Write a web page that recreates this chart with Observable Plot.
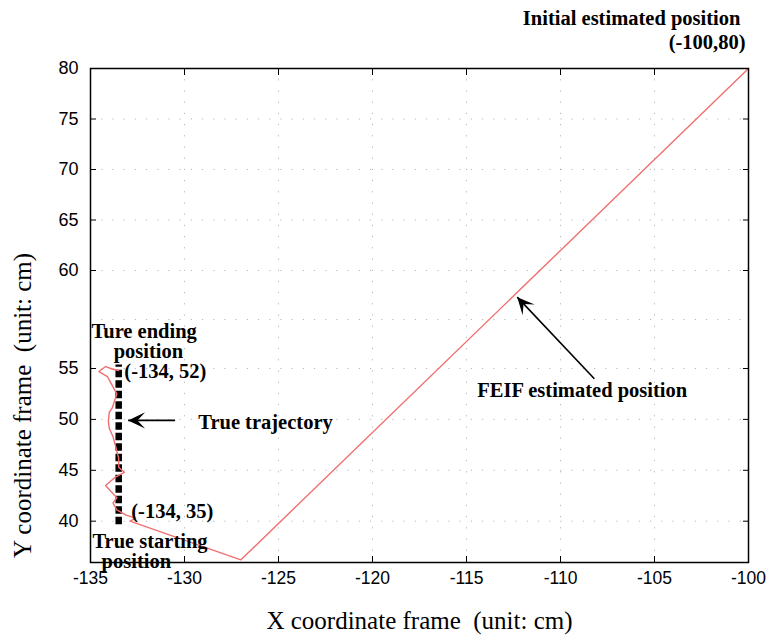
<!DOCTYPE html>
<html><head><meta charset="utf-8">
<script src="https://cdn.jsdelivr.net/npm/d3@7"></script>
<script src="https://cdn.jsdelivr.net/npm/@observablehq/plot@0.6"></script>
<style>body{margin:0;background:#fff}</style>
</head><body><div id="chart"></div>
<script>
// Axis ticks
const xTicks = [-135, -130, -125, -120, -115, -110, -105, -100];
const yTicks = [40, 45, 50, 55, 60, 65, 70, 75, 80];
const yGridLines = [40, 45, 50, 55, 57.5, 60, 65, 70, 75, 80];

// FEIF estimated trajectory (red)
const feifX = [-100, -127.0, -132.9, -132.6, -133.1, -133.6, -133.8, -133.6, -134.2, -133.7, -133.2, -133.5, -133.5, -133.7, -133.8, -134.0, -134.05, -134.0, -133.85, -133.6, -134.1, -134.55, -134.2, -133.85, -133.5];
const feifY = [80, 36.2, 40.0, 40.3, 40.6, 41.1, 41.8, 42.3, 43.5, 44.3, 44.8, 45.3, 46.2, 47.6, 48.3, 49.1, 49.8, 50.7, 51.1, 52.5, 54.2, 54.7, 55.1, 54.95, 54.8];

// True trajectory (black dashed)
const trueX = [-133.5, -133.5];
const trueY = [39.7, 55.2];

// Arrows: tail -> tip
const arrowX1 = [-130.5, -108.2];
const arrowY1 = [49.9, 54.0];
const arrowX2 = [-133.0, -112.3];
const arrowY2 = [49.9, 58.64];
const arrowRotate = [-90, -42];

// Annotations
const noteText = ["Ture ending", "position", "(-134, 52)", "True trajectory", "(-134, 35)", "True starting", "position", "FEIF estimated position", "Initial estimated position", "(-100,80)"];
const noteX = [-134.95, -131.92, -133.2, -129.27, -132.83, -134.9, -132.56, -114.43, -100.43, -100.16];
const noteY = [56.89, 55.87, 54.7, 49.7, 41.0, 38.04, 36.08, 52.84, 84.95, 82.57];
const noteAnchor = ["start", "middle", "start", "start", "start", "start", "middle", "start", "end", "end"];

const W = 766, H = 638, mL = 90, mR = 18, mT = 68, mB = 76;

const feif = feifX.map((x, i) => ({x, y: feifY[i]}));
const truth = trueX.map((x, i) => ({x, y: trueY[i]}));
const arrows = arrowX1.map((x1, i) => ({x1, y1: arrowY1[i], x2: arrowX2[i], y2: arrowY2[i], rot: arrowRotate[i]}));
const notes = noteText.map((t, i) => ({t, x: noteX[i], y: noteY[i], a: noteAnchor[i]}));

const arrowHead = {
  draw(context, size) {
    const r = Math.sqrt(size / Math.PI);
    const L = 2 * r, w = 0.95 * r;
    context.moveTo(0, 0);
    context.lineTo(-w, L);
    context.lineTo(0, L * 0.55);
    context.lineTo(w, L);
    context.closePath();
  }
};

const noteFont = {fontFamily: "Liberation Serif", fontWeight: "bold", fontSize: 20.5, fill: "black", lineAnchor: "middle"};
const fmt = d => String(d);

const chart = Plot.plot({
  width: W, height: H,
  marginLeft: mL, marginRight: mR, marginTop: mT, marginBottom: mB,
  style: {fontFamily: "Liberation Sans", fontSize: "18px", background: "white", color: "black", overflow: "visible"},
  x: {domain: [-135, -100]},
  y: {type: "linear", domain: [35.94, 55, 60, 80], range: [H - mB, 368, 270, mT]},
  marks: [
    Plot.gridX(xTicks, {stroke: "#888", strokeOpacity: 0.6, strokeDasharray: "1.2,10"}),
    Plot.gridY(yGridLines, {stroke: "#888", strokeOpacity: 0.6, strokeDasharray: "1.2,10"}),
    Plot.line(truth, {x: "x", y: "y", stroke: "black", strokeWidth: 6.5, strokeDasharray: "7.5,3", strokeLinecap: "butt"}),
    Plot.line(feif, {x: "x", y: "y", stroke: "#f07070", strokeWidth: 1.4, curve: "linear"}),
    Plot.link(arrows, {x1: "x1", y1: "y1", x2: "x2", y2: "y2", stroke: "black", strokeWidth: 1.6}),
    Plot.dot(arrows, {x: "x2", y: "y2", symbol: arrowHead, r: 8.5, rotate: "rot", fill: "black", stroke: "none"}),
    Plot.frame({stroke: "black", strokeWidth: 1.5}),
    Plot.axisX(xTicks, {anchor: "bottom", tickSize: -6, tickPadding: 15, tickFormat: fmt, label: null, fontSize: 17.5}),
    Plot.axisX(xTicks, {anchor: "top", tickSize: -6, tickFormat: () => "", label: null}),
    Plot.axisY(yTicks, {anchor: "left", tickSize: -6, tickPadding: 18, tickFormat: fmt, label: null, fontSize: 18}),
    Plot.axisY(yTicks, {anchor: "right", tickSize: -6, tickFormat: () => "", label: null}),
    Plot.text(["X coordinate frame  (unit: cm)"], {frameAnchor: "bottom", dy: 58, lineAnchor: "middle", textAnchor: "middle", fontFamily: "Liberation Serif", fontSize: 25, fill: "black"}),
    Plot.text(["Y coordinate frame  (unit: cm)"], {frameAnchor: "left", dx: -68, dy: 90, rotate: -90, textAnchor: "middle", lineAnchor: "middle", fontFamily: "Liberation Serif", fontSize: 25, fill: "black"}),
    Plot.text(notes.filter(d => d.a === "start"), {x: "x", y: "y", text: "t", textAnchor: "start", ...noteFont}),
    Plot.text(notes.filter(d => d.a === "middle"), {x: "x", y: "y", text: "t", textAnchor: "middle", ...noteFont}),
    Plot.text(notes.filter(d => d.a === "end"), {x: "x", y: "y", text: "t", textAnchor: "end", ...noteFont})
  ]
});
document.getElementById("chart").appendChild(chart);
</script>
</body></html>
